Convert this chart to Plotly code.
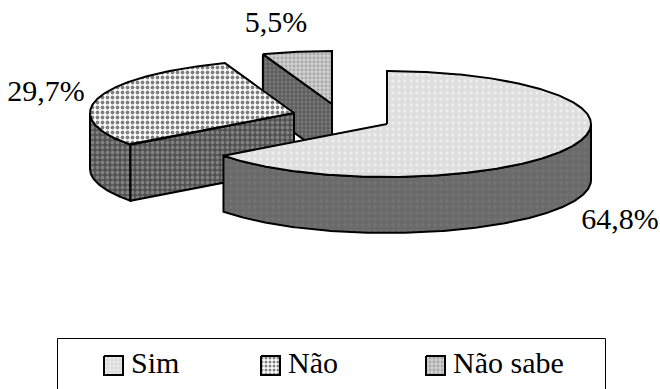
import numpy as np
import plotly.graph_objects as go

# Survey shares, in percent
categories = ["Sim", "Não", "Não sabe"]
values = [64.8, 29.7, 5.5]
value_labels = ["64,8%", "29,7%", "5,5%"]

# Pie geometry in canvas pixels
RX, RY, DEPTH = 204, 53, 56
centers = [(387, 124), (294, 113), (332, 104)]
label_xy = [(620, 221), (46, 93), (276, 24)]

# Hatch styles: (top bg, top fg, top solidity, side bg, side fg, side solidity, size)
styles = [
    ("#dedede", "#eeeeee", 0.25, "#6a6a6a", "#737373", 0.25, 6),
    ("#ffffff", "#808080", 0.45, "#505050", "#808080", 0.45, 5),
    ("#cfcfcf", "#aaaaaa", 0.4, "#5e5e5e", "#777777", 0.4, 4),
]
FONT = "Liberation Serif"

edges = np.cumsum([0] + values) / sum(values) * 360.0


def rim(center, a0, a1, dy=0.0):
    """Points along the elliptical rim, angles clockwise from 12 o'clock."""
    t = np.radians(np.linspace(a0, a1, max(int(abs(a1 - a0)) * 2, 2)))
    return center[0] + RX * np.sin(t), center[1] - RY * np.cos(t) + dy


def poly(xs, ys, bg, fg, solidity, size, width=2):
    return go.Scatter(
        x=list(xs), y=list(ys), mode="lines", fill="toself", showlegend=False,
        hoverinfo="skip", line=dict(color="black", width=width),
        fillcolor=bg,
        fillpattern=dict(shape=".", bgcolor=bg, fgcolor=fg, size=size,
                         solidity=solidity, fillmode="replace"),
    )


def wedge_traces(i):
    c, a0, a1 = centers[i], edges[i], edges[i + 1]
    top_bg, top_fg, top_sol, side_bg, side_fg, side_sol, size = styles[i]
    side = (side_bg, side_fg, side_sol, size)
    out = []
    # Outer wall: only the stretch of rim facing the viewer
    lo, hi = max(a0, 90), min(a1, 270)
    if lo < hi:
        x, y = rim(c, lo, hi)
        xb, yb = rim(c, lo, hi, DEPTH)
        out.append(poly(np.r_[x, xb[::-1], x[0]], np.r_[y, yb[::-1], y[0]], *side))
    # Leading cut face, visible when it turns towards the viewer
    if 180 < a0 < 360:
        px, py = rim(c, a0, a0 + 0.01)
        px, py = px[0], py[0]
        out.append(poly([px, c[0], c[0], px, px],
                        [py, c[1], c[1] + DEPTH, py + DEPTH, py], *side))
    # Top face
    x, y = rim(c, a0, a1)
    out.append(poly(np.r_[c[0], x, c[0]], np.r_[c[1], y, c[1]],
                    top_bg, top_fg, top_sol, size))
    return out


fig = go.Figure()

# Painter's order: back wedge first, largest wedge last
for i in (2, 1, 0):
    for tr in wedge_traces(i):
        fig.add_trace(tr)

# Value labels
fig.add_trace(go.Scatter(
    x=[p[0] for p in label_xy], y=[p[1] for p in label_xy], text=value_labels,
    mode="text", textposition="middle center", showlegend=False, hoverinfo="skip",
    textfont=dict(family=FONT, size=30, color="black"),
))

# Legend frame, open at the canvas edge
fig.add_shape(type="rect", x0=57.5, x1=605.5, y0=338.5, y1=400,
              line=dict(color="black", width=1), layer="below")

swatch_x = [104, 261, 426]
for i, name in enumerate(categories):
    sx = swatch_x[i]
    fig.add_trace(poly([sx, sx + 19, sx + 19, sx, sx], [356, 356, 375, 375, 356],
                       styles[i][0], styles[i][1], styles[i][2], 4, width=2))
    fig.add_annotation(x=sx + 25, y=362, text=name, showarrow=False, xanchor="left",
                       yanchor="middle", font=dict(family=FONT, size=30, color="black"))

fig.update_layout(
    width=660, height=389, margin=dict(l=0, r=0, t=0, b=0),
    paper_bgcolor="white", plot_bgcolor="white", showlegend=False,
    xaxis=dict(range=[0, 660], visible=False, fixedrange=True),
    yaxis=dict(range=[389, 0], visible=False, fixedrange=True),
)
fig.write_html("out.html", config={"displayModeBar": False})
